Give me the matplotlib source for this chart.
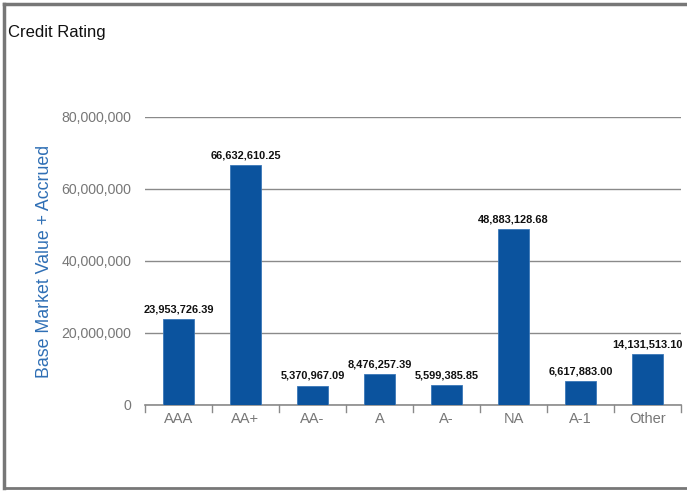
import matplotlib
matplotlib.use("Agg")
import matplotlib.pyplot as plt

categories = ["AAA", "AA+", "AA-", "A", "A-", "NA", "A-1", "Other"]
values = [23953726.39, 66632610.25, 5370967.09, 8476257.39,
          5599385.85, 48883128.68, 6617883.00, 14131513.10]
yticks = [0, 20000000, 40000000, 60000000, 80000000]

plt.rcParams['font.family'] = ['Liberation Sans', 'DejaVu Sans']

fig = plt.figure(figsize=(6.87, 4.91), dpi=100)
ax = fig.add_axes([145 / 687, 1 - 405 / 491, 536 / 687, 288 / 491])

x = range(len(categories))
ax.bar(x, values, width=0.47, color="#0b539e", edgecolor="#3b78b8",
       linewidth=0.6, zorder=3)

for xi, v in zip(x, values):
    ax.text(xi, v + 1300000, f"{v:,.2f}", ha="center", va="bottom",
            fontsize=7.9, fontweight="bold", color="#111111")

ax.set_xlim(-0.5, len(categories) - 0.5)
ax.set_ylim(0, 80000000)
ax.set_yticks(yticks)
ax.set_yticklabels([f"{t:,}" for t in yticks])
ax.yaxis.grid(True, color="#8a8a8a", linewidth=1.0, zorder=0)
ax.set_axisbelow(True)

for s in ["top", "right", "left"]:
    ax.spines[s].set_visible(False)
ax.spines["bottom"].set_color("#8a8a8a")
ax.spines["bottom"].set_linewidth(1.2)

ax.tick_params(axis="y", length=0, pad=10, labelsize=10.2, labelcolor="#777777")
ax.set_xticks(list(x))
ax.set_xticklabels(categories)
ax.tick_params(axis="x", length=0, pad=5, labelsize=10.5, labelcolor="#777777")

# boundary tick marks between categories
for b in [i - 0.5 for i in range(len(categories) + 1)]:
    ax.plot([b, b], [0, -2000000], color="#8a8a8a", linewidth=1.0,
            clip_on=False, zorder=4)

ax.set_ylabel("Base Market Value + Accrued", color="#2f6fb5", fontsize=12.8)
ax.yaxis.set_label_coords(-0.172, 0.5)

fig.text(8 / 687, 1 - 33 / 491, "Credit Rating", fontsize=12,
         color="#111111", va="center", ha="left")

# outer frame (top, left, bottom)
fig.add_artist(plt.Line2D([4 / 687, 1], [1 - 4 / 491, 1 - 4 / 491],
                          transform=fig.transFigure, color="#777777", linewidth=2.5))
fig.add_artist(plt.Line2D([4 / 687, 4 / 687], [1 - 4 / 491, 1 - 488 / 491],
                          transform=fig.transFigure, color="#777777", linewidth=2.5))
fig.add_artist(plt.Line2D([4 / 687, 1], [1 - 488 / 491, 1 - 488 / 491],
                          transform=fig.transFigure, color="#777777", linewidth=2.0))

fig.savefig("out.png", dpi=100, facecolor="white")
